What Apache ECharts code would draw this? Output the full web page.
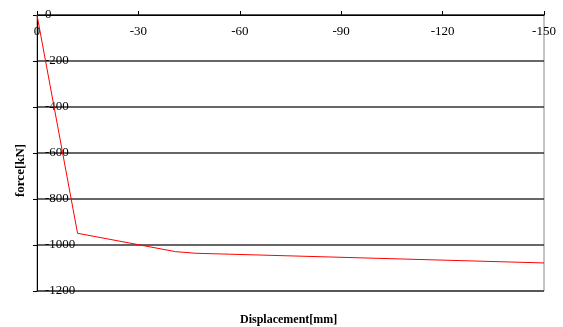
<!DOCTYPE html>
<html>
<head>
<meta charset="utf-8">
<script src="https://cdn.jsdelivr.net/npm/echarts@6/dist/echarts.min.js"></script>
<style>
  html, body { margin: 0; padding: 0; background: #fff; }
  #chart { width: 563px; height: 327px; }
</style>
</head>
<body>
<div id="chart"></div>
<script>
// Load-displacement curve
const displacement = [0, -12, -41, -47, -57, -150];
const force = [0, -949, -1029, -1036, -1040, -1078];
const xTicks = { min: -150, max: 0, step: 30 };
const yTicks = { min: -1200, max: 0, step: 200 };

const FONT = '"Liberation Serif", "Times New Roman", serif';
const plain = v => String(v);

const chart = echarts.init(document.getElementById('chart'), null, { renderer: 'canvas' });
chart.setOption({
  animation: false,
  backgroundColor: '#fff',
  grid: {
    left: 37, top: 15, right: 19, bottom: 36,
    show: true, borderColor: '#888', borderWidth: 1
  },
  xAxis: {
    type: 'value',
    position: 'top',
    inverse: true,
    min: xTicks.min, max: xTicks.max, interval: xTicks.step,
    axisLine: { show: true, onZero: false, lineStyle: { color: '#000', width: 1 } },
    axisTick: { show: true, inside: false, length: 4, lineStyle: { color: '#000' } },
    axisLabel: { inside: true, margin: 10, color: '#000', fontFamily: FONT, fontSize: 13, formatter: plain },
    splitLine: { show: false }
  },
  yAxis: {
    type: 'value',
    min: yTicks.min, max: yTicks.max, interval: yTicks.step,
    axisLine: { show: true, onZero: false, lineStyle: { color: '#000', width: 1 } },
    axisTick: { show: true, inside: false, length: 4, lineStyle: { color: '#000' } },
    axisLabel: { inside: true, margin: 8, align: 'left', color: '#000', fontFamily: FONT, fontSize: 13, formatter: plain },
    splitLine: { show: true, lineStyle: { color: '#333', width: 1.5 } }
  },
  graphic: [{
    type: 'text',
    left: 240, top: 314,
    style: { text: 'Displacement[mm]', fill: '#000', font: 'bold 12px ' + FONT }
  }, {
    type: 'text',
    x: 14, y: 197,
    rotation: Math.PI / 2,
    style: { text: 'force[kN]', fill: '#000', font: 'bold 13px ' + FONT, textAlign: 'left', textVerticalAlign: 'top' }
  }],
  series: [{
    type: 'line',
    data: displacement.map((d, i) => [d, force[i]]),
    showSymbol: false,
    lineStyle: { color: '#ff0000', width: 1 },
    z: 3
  }]
});
</script>
</body>
</html>
